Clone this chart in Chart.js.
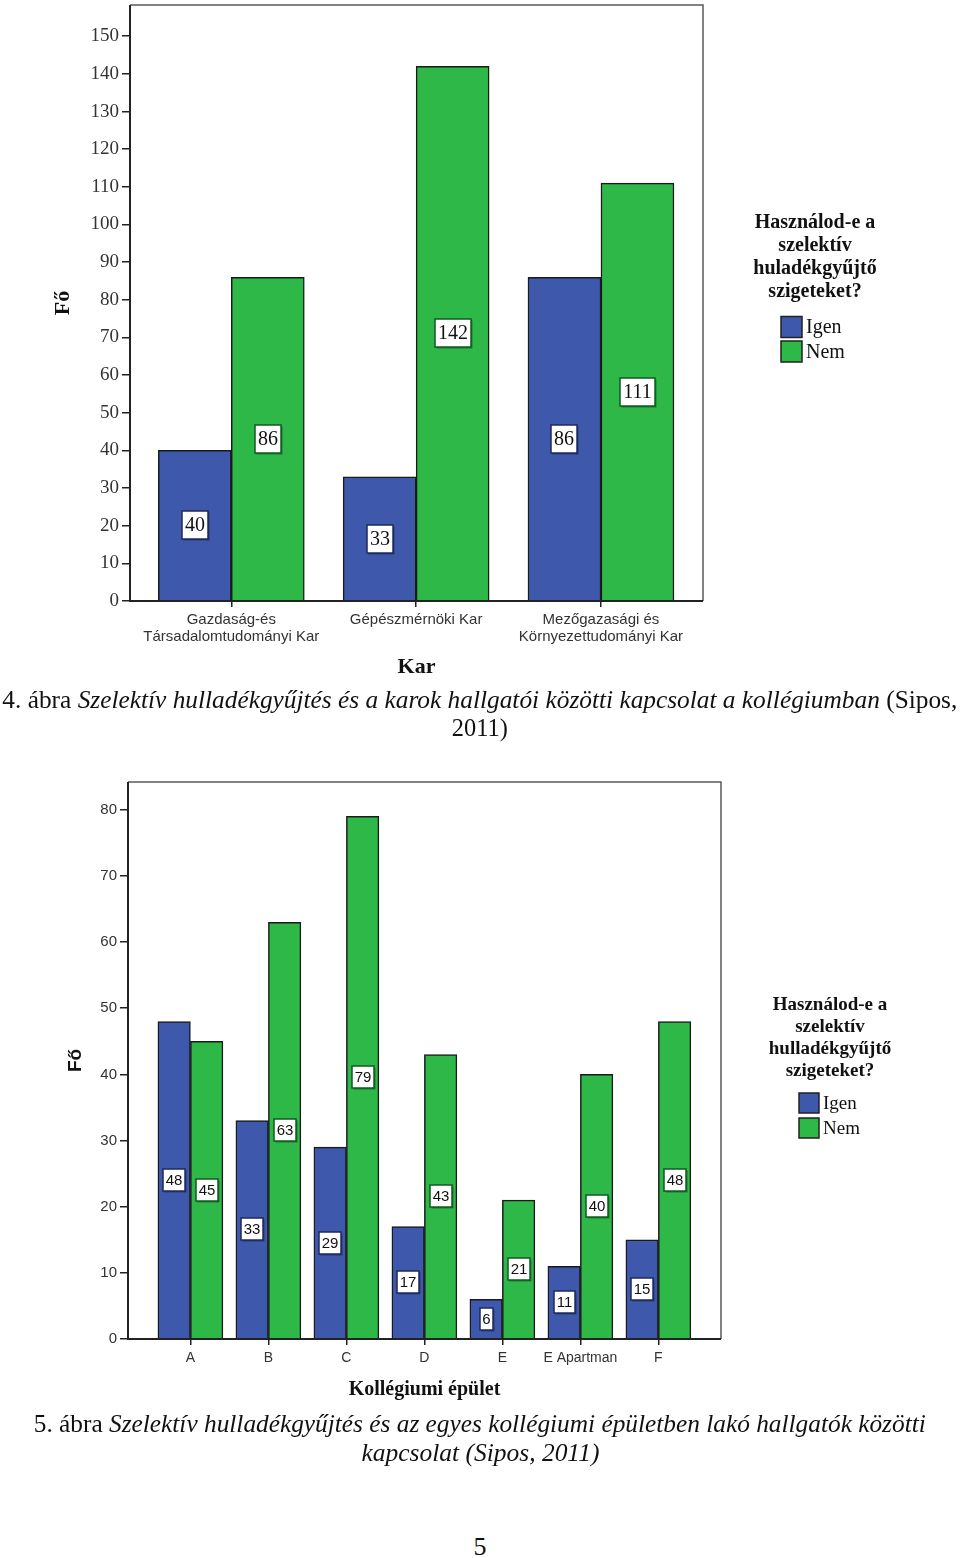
<!DOCTYPE html>
<html>
<head>
<meta charset="utf-8">
<script src="https://cdn.jsdelivr.net/npm/chart.js@4.4.0/dist/chart.umd.min.js"></script>
<style>
  html, body { margin: 0; padding: 0; background: #fff; }
  #page { position: relative; width: 960px; height: 1558px; overflow: hidden; background: #fff;
          font-family: "Liberation Serif", "Times New Roman", serif; color: #111; }
  canvas { position: absolute; left: 0; }
  .cap { position: absolute; left: -500px; width: 1960px; text-align: center; white-space: nowrap;
         font-size: 26px; line-height: 28px; }
  .cap span { display: inline-block; transform-origin: center center; }
</style>
</head>
<body>
<div id="page">
  <canvas id="karChart" width="960" height="690" style="top:0"></canvas>
  <canvas id="epuletChart" width="960" height="650" style="top:760px"></canvas>

  <div class="cap" style="top:686px"><span data-w="955">4. ábra <i>Szelektív hulladékgyűjtés és a karok hallgatói közötti kapcsolat a kollégiumban</i> (Sipos,</span></div>
  <div class="cap" style="top:714px"><span data-w="56">2011)</span></div>
  <div class="cap" style="top:1410px"><span data-w="892">5. ábra <i>Szelektív hulladékgyűjtés és az egyes kollégiumi épületben lakó hallgatók közötti</i></span></div>
  <div class="cap" style="top:1439px"><span data-w="238"><i>kapcsolat (Sipos, 2011)</i></span></div>
  <div class="cap" style="top:1533px"><span>5</span></div>
</div>

<script>
// ---- data: 4. ábra (karok) ----
const karLabels = [["Gazdaság-és", "Társadalomtudományi Kar"], ["Gépészmérnöki Kar"], ["Mezőgazasági és", "Környezettudományi Kar"]];
const karIgen = [40, 33, 86];
const karNem = [86, 142, 111];
const karYTicks = [0, 10, 20, 30, 40, 50, 60, 70, 80, 90, 100, 110, 120, 130, 140, 150];
const karLegendTitle = ["Használod-e a", "szelektív", "huladékgyűjtő", "szigeteket?"];

// ---- data: 5. ábra (kollégiumi épületek) ----
const epuletLabels = ["A", "B", "C", "D", "E", "E Apartman", "F"];
const epuletIgen = [48, 33, 29, 17, 6, 11, 15];
const epuletNem = [45, 63, 79, 43, 21, 40, 48];
const epuletYTicks = [0, 10, 20, 30, 40, 50, 60, 70, 80];
const epuletLegendTitle = ["Használod-e a", "szelektív", "hulladékgyűjtő", "szigeteket?"];

const seriesNames = ["Igen", "Nem"];
const BLUE = "#3E58AC", GREEN = "#2EB848";
const BLUE_DARK = "#1c2a5c", GREEN_DARK = "#0f5a20";

const SERIF = '"Liberation Serif", "Times New Roman", serif';
const SANS = '"Liberation Sans", Arial, sans-serif';
const NARROW = '"Liberation Sans Narrow", "Liberation Sans", Arial, sans-serif';

// white value boxes in the middle of each bar
const boxLabels = {
  id: "boxLabels",
  afterDatasetsDraw(chart, args, opts) {
    const ctx = chart.ctx;
    ctx.save();
    ctx.font = opts.font;
    ctx.textAlign = "center";
    ctx.textBaseline = "middle";
    chart.data.datasets.forEach((d, di) => {
      chart.getDatasetMeta(di).data.forEach((bar, i) => {
        const txt = String(d.data[i].y);
        const w = Math.round(ctx.measureText(txt).width + opts.padX * 2);
        const h = opts.h;
        const x0 = Math.round(bar.x - w / 2), y0 = Math.round((bar.y + bar.base) / 2 - h / 2);
        ctx.fillStyle = "rgba(0,0,0,0.35)";
        ctx.fillRect(x0 + 1.5, y0 + 1.5, w, h);
        ctx.fillStyle = "#fff";
        ctx.fillRect(x0, y0, w, h);
        ctx.strokeStyle = d.boxBorder;
        ctx.lineWidth = 1.5;
        ctx.strokeRect(x0, y0, w, h);
        ctx.fillStyle = "#111";
        ctx.fillText(txt, x0 + w / 2, y0 + h / 2 + 1);
      });
    });
    ctx.restore();
  }
};

// frame round the plot + legend on the right
const frameAndLegend = {
  id: "frameAndLegend",
  afterDraw(chart, args, opts) {
    const ctx = chart.ctx;
    const a = chart.chartArea;
    ctx.save();
    ctx.strokeStyle = "#5a5a5a";
    ctx.lineWidth = 1.5;
    ctx.beginPath();
    ctx.moveTo(a.left, a.top); ctx.lineTo(a.right, a.top); ctx.lineTo(a.right, a.bottom);
    ctx.stroke();
    ctx.strokeStyle = "#222";
    ctx.lineWidth = 2;
    ctx.beginPath();
    ctx.moveTo(a.left, a.top); ctx.lineTo(a.left, a.bottom); ctx.lineTo(a.right, a.bottom);
    ctx.stroke();

    const L = opts.legend;
    ctx.fillStyle = "#111";
    ctx.textBaseline = "middle";
    ctx.textAlign = "center";
    ctx.font = L.titleFont;
    L.title.forEach((t, i) => ctx.fillText(t, L.cx, L.titleY + i * L.titleLH));
    ctx.textAlign = "left";
    ctx.font = L.itemFont;
    chart.data.datasets.forEach((d, i) => {
      const cy = L.itemY + i * L.itemLH;
      ctx.fillStyle = d.backgroundColor;
      ctx.fillRect(L.boxX, cy - L.box / 2, L.box, L.box);
      ctx.strokeStyle = "#222";
      ctx.lineWidth = 1.5;
      ctx.strokeRect(L.boxX, cy - L.box / 2, L.box, L.box);
      ctx.fillStyle = "#111";
      ctx.fillText(d.label, L.boxX + L.box + 4, cy + 1);
    });
    ctx.restore();
  }
};

function buildChart(canvas, o) {
  const ds = (name, vals, color, dark) => ({
    label: name,
    data: vals.map((v, i) => ({ x: i, y: v })),
    backgroundColor: color,
    borderColor: "#1a1a1a",
    borderWidth: 1.5,
    borderSkipped: "start",
    barThickness: o.barW,
    boxBorder: dark
  });
  return new Chart(canvas.getContext("2d"), {
    type: "bar",
    data: {
      datasets: [ds(seriesNames[0], o.igen, BLUE, BLUE_DARK), ds(seriesNames[1], o.nem, GREEN, GREEN_DARK)]
    },
    options: {
      responsive: false,
      animation: false,
      layout: { padding: o.pad },
      plugins: {
        legend: { display: false },
        tooltip: { enabled: false },
        boxLabels: o.boxes,
        frameAndLegend: { legend: o.legend }
      },
      scales: {
        x: {
          type: "linear", bounds: "data", min: o.xMin, max: o.xMax, offset: false,
          afterBuildTicks: s => { s.ticks = o.labels.map((_, i) => ({ value: i })); },
          afterFit: s => { s.height = o.xH; s.paddingLeft = 0; s.paddingRight = 0; },
          ticks: {
            callback: v => o.labels[v], autoSkip: false, maxRotation: 0,
            font: o.xFont, color: "#333", padding: 5
          },
          grid: { offset: false, drawOnChartArea: false, drawTicks: true, tickLength: 6, color: "#222", lineWidth: 1.5 },
          border: { display: false },
          title: { display: true, text: o.xTitle, font: o.xTitleFont, color: "#111", padding: { top: 0, bottom: o.xTitlePad } }
        },
        y: {
          type: "linear", bounds: "data", min: 0, max: o.yMax,
          afterBuildTicks: s => { s.ticks = o.yTicks.map(v => ({ value: v })); },
          afterFit: s => { s.width = o.yW; s.paddingTop = 0; s.paddingBottom = 0; },
          ticks: { font: o.yFont, color: "#333", padding: 3 },
          grid: { drawOnChartArea: false, drawTicks: true, tickLength: 8, color: "#222", lineWidth: 1.5 },
          border: { display: false },
          title: { display: true, text: "Fő", font: o.yTitleFont, color: "#111", padding: { top: o.yTitlePad, bottom: 0 } }
        }
      }
    },
    plugins: [boxLabels, frameAndLegend]
  });
}

// 4. ábra: plot area 130..703 x 5..601
buildChart(document.getElementById("karChart"), {
  labels: karLabels, igen: karIgen, nem: karNem, yTicks: karYTicks,
  xMin: -0.548, xMax: 2.552, yMax: 158.3, barW: 73,
  pad: { left: 40, right: 257, top: 5, bottom: 9 }, yW: 90, xH: 80,
  xFont: { family: SANS, size: 15, lineHeight: 1.1 },
  yFont: { family: SERIF, size: 19 },
  xTitle: "Kar", xTitleFont: { family: SERIF, size: 22, weight: "bold" }, xTitlePad: 0,
  yTitleFont: { family: SERIF, size: 22, weight: "bold" }, yTitlePad: 10,
  boxes: { font: "20px " + SERIF, padX: 3, h: 28 },
  legend: { title: karLegendTitle, cx: 815, titleY: 223, titleLH: 23, titleFont: "bold 20px " + SERIF,
            itemFont: "20px " + SERIF, boxX: 781, box: 21, itemY: 327, itemLH: 24.5 }
});

// 5. ábra: plot area 128..721 x 22..579 (canvas top at 760)
buildChart(document.getElementById("epuletChart"), {
  labels: epuletLabels, igen: epuletIgen, nem: epuletNem, yTicks: epuletYTicks,
  xMin: -0.8, xMax: 6.803, yMax: 84.2, barW: 32.5,
  pad: { left: 40, right: 239, top: 22, bottom: 8 }, yW: 88, xH: 63,
  xFont: { family: SANS, size: 14, lineHeight: 1.1 },
  yFont: { family: NARROW, size: 15 },
  xTitle: "Kollégiumi épület", xTitleFont: { family: SERIF, size: 20, weight: "bold" }, xTitlePad: 0,
  yTitleFont: { family: SANS, size: 19, weight: "bold" }, yTitlePad: 24,
  boxes: { font: "15px " + SANS, padX: 2.5, h: 22 },
  legend: { title: epuletLegendTitle, cx: 830, titleY: 245, titleLH: 22, titleFont: "bold 19px " + SERIF,
            itemFont: "19px " + SERIF, boxX: 799, box: 20, itemY: 343, itemLH: 25 }
});

// squeeze the caption lines to the widths they have on the page
document.querySelectorAll(".cap span[data-w]").forEach(el => {
  const w = el.getBoundingClientRect().width;
  if (w > 0) el.style.transform = "scaleX(" + (Number(el.dataset.w) / w) + ")";
});
</script>
</body>
</html>
